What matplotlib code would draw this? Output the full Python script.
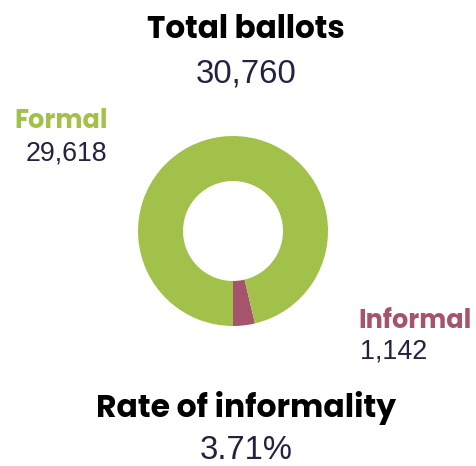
import matplotlib
matplotlib.use("Agg")
import matplotlib.pyplot as plt

# Data
labels = ["Informal", "Formal"]
values = [1142, 29618]
total = 30760
rate = 3.71

green = "#a2c14a"
maroon = "#a5546b"
navy = "#23233f"

fig = plt.figure(figsize=(4.76, 4.66), dpi=100)

# donut centered at (233, 231) px, radius 95 px
cx, cy, r = 233, 231, 95
W, H = 476, 466
ax = fig.add_axes([(cx - r) / W, 1 - (cy + r) / H, 2 * r / W, 2 * r / H])
ax.pie(values, colors=[maroon, green], startangle=-90, counterclock=True,
       radius=1, wedgeprops=dict(width=0.474, linewidth=0))
ax.set_xlim(-1, 1)
ax.set_ylim(-1, 1)
ax.set_aspect("equal")
ax.axis("off")

title_font = ["Poppins", "Lato", "DejaVu Sans"]
num_font = ["Liberation Sans", "DejaVu Sans"]

def px(x, y):
    return x / W, 1 - y / H

fig.text(*px(246, 38), "Total ballots", ha="center", va="baseline",
         fontsize=22.4, fontweight="bold", family=title_font, color="black")
fig.text(*px(246, 83), f"{total:,}", ha="center", va="baseline",
         fontsize=23.8, family=num_font, color=navy)

fig.text(*px(14, 128), labels[1], ha="left", va="baseline",
         fontsize=18.4, fontweight="bold", family=title_font, color=green)
fig.text(*px(26, 161), f"{values[1]:,}", ha="left", va="baseline",
         fontsize=19.3, family=num_font, color=navy)

fig.text(*px(358, 328), labels[0], ha="left", va="baseline",
         fontsize=18.3, fontweight="bold", family=title_font, color=maroon)
fig.text(*px(360, 359), f"{values[0]:,}", ha="left", va="baseline",
         fontsize=19.4, family=num_font, color=navy)

fig.text(*px(246, 417), "Rate of informality", ha="center", va="baseline",
         fontsize=22.6, fontweight="bold", family=title_font, color="black")
fig.text(*px(246, 459), f"{rate:.2f}%", ha="center", va="baseline",
         fontsize=23.6, family=num_font, color=navy)

fig.savefig("out.png", dpi=100)
